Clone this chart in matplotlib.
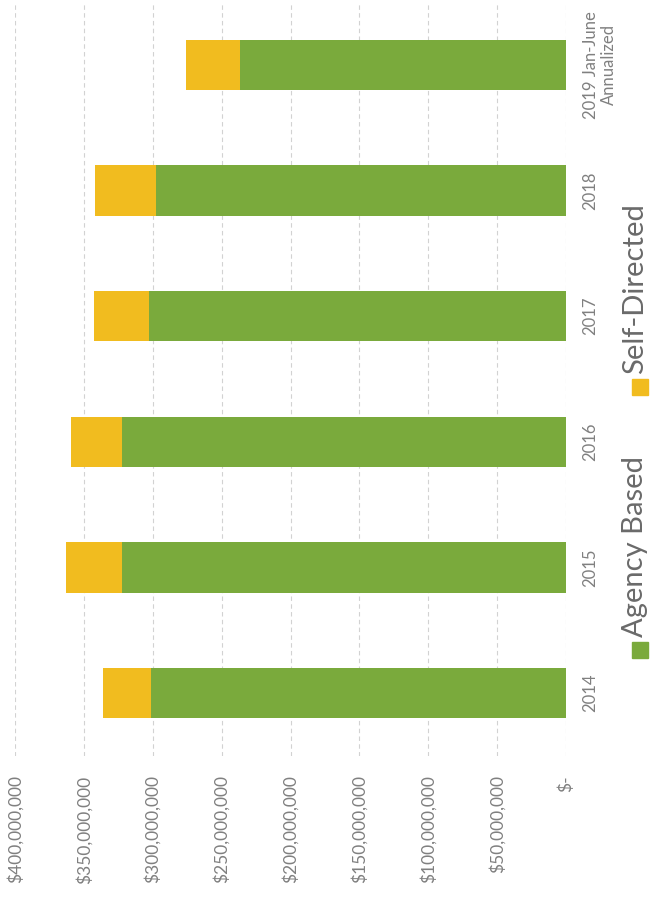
import matplotlib
matplotlib.use("Agg")
import matplotlib.pyplot as plt
from matplotlib.patches import Rectangle

years = ["2014", "2015", "2016", "2017", "2018", "2019 Jan-June\nAnnualized"]
agency_based = [301e6, 322e6, 322e6, 303e6, 298e6, 237e6]
self_directed = [35e6, 41e6, 37e6, 40e6, 44e6, 39e6]
value_ticks = [0, 50e6, 100e6, 150e6, 200e6, 250e6, 300e6, 350e6, 400e6]
value_labels = ["$-", "$50,000,000", "$100,000,000", "$150,000,000", "$200,000,000",
                "$250,000,000", "$300,000,000", "$350,000,000", "$400,000,000"]
legend_labels = ["Agency Based", "Self-Directed"]

GREEN = "#7aaa3c"
YELLOW = "#f1bc1f"
TXT = "#808080"

plt.rcParams["font.family"] = ["Lato", "DejaVu Sans"]

W, H = 658, 899
fig = plt.figure(figsize=(W / 100, H / 100), dpi=100)
fig.patch.set_facecolor("white")
# chart is drawn turned 90 degrees: values grow to the left, years go bottom to top
ax = fig.add_axes([15 / W, 143 / H, (566 - 15) / W, (897 - 143) / H])

pos = list(range(len(years)))
ax.barh(pos, agency_based, height=0.4, color=GREEN, zorder=2)
ax.barh(pos, self_directed, left=agency_based, height=0.4, color=YELLOW, zorder=2)

ax.set_xlim(400e6, 0)
ax.set_ylim(-0.5, len(years) - 0.5)
for v in value_ticks:
    ax.axvline(v, color="#d2d2d2", lw=0.8, linestyle=(0, (4, 3)), zorder=1)

ax.set_xticks(value_ticks)
ax.set_xticklabels(value_labels, rotation=90, ha="center", va="top",
                   fontsize=12.5, color=TXT)
ax.tick_params(axis="x", length=0, pad=14)

ax.yaxis.tick_right()
ax.set_yticks(pos)
ax.set_yticklabels(years, rotation=90, ha="left", va="center",
                   multialignment="center", fontsize=12, color=TXT)
ax.tick_params(axis="y", length=0, pad=12)

for s in ax.spines.values():
    s.set_visible(False)

# legend, turned like the rest of the chart
for label, col, y0 in zip(legend_labels, [GREEN, YELLOW], [642, 379]):
    fig.patches.append(Rectangle((632 / W, (H - y0 - 16) / H), 16 / W, 16 / H,
                                 transform=fig.transFigure, color=col))
    fig.text(643 / W, (H - y0 + 5) / H, label, rotation=90, ha="left", va="baseline",
             rotation_mode="anchor", fontsize=21, color="#6a6a6a")

fig.savefig("out.png", dpi=100, facecolor="white")
